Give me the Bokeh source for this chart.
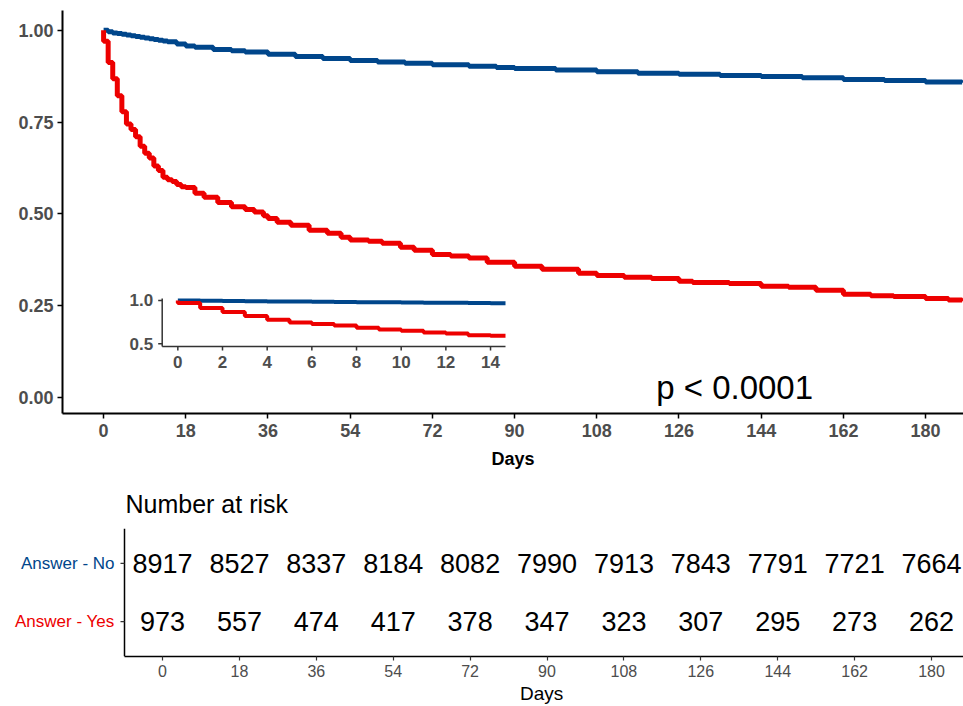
from bokeh.plotting import figure
from bokeh.models import Range1d, FixedTicker, PrintfTickFormatter, Label, ColumnDataSource, Title
from bokeh.layouts import column
from bokeh.core.properties import value
from bokeh.embed import file_html
from bokeh.resources import INLINE

# ---------------- data ----------------
group_names = ["Answer - Yes", "Answer - No"]

no_days = [0, 1, 2, 3, 4, 5, 6, 7, 8, 9, 10, 11, 12, 13, 14, 16, 18, 20, 24, 28,
           31, 36, 42, 48, 54, 60, 66, 72, 80, 86, 90, 99, 108, 117, 126, 135,
           144, 153, 162, 171, 180, 188]
no_surv = [1.0, 0.996, 0.993, 0.991, 0.989, 0.987, 0.985, 0.983, 0.981, 0.979,
           0.977, 0.975, 0.973, 0.971, 0.969, 0.963, 0.957, 0.954, 0.948, 0.944,
           0.941, 0.935, 0.929, 0.923, 0.918, 0.914, 0.910, 0.906, 0.902, 0.899,
           0.896, 0.892, 0.887, 0.883, 0.880, 0.877, 0.874, 0.871, 0.866, 0.863,
           0.859, 0.857]

yes_days = [0, 0, 1, 2, 3, 4, 5, 6, 7, 8, 9, 10, 11, 12, 13, 14, 15, 16, 17, 18,
            20, 22, 25, 28, 31, 33, 35, 36, 38, 41, 45, 49, 52, 54, 58, 61, 65, 68,
            72, 76, 80, 84, 90, 96, 104, 108, 114, 120, 126, 129, 137, 144, 150,
            156, 162, 168, 173, 180, 185, 188]
yes_surv = [1.0, 0.970, 0.912, 0.868, 0.822, 0.778, 0.745, 0.730, 0.710, 0.684,
            0.665, 0.652, 0.630, 0.618, 0.600, 0.593, 0.588, 0.580, 0.574, 0.572,
            0.556, 0.545, 0.531, 0.519, 0.512, 0.505, 0.495, 0.487, 0.477, 0.469,
            0.455, 0.447, 0.436, 0.429, 0.425, 0.420, 0.409, 0.401, 0.389, 0.385,
            0.380, 0.368, 0.357, 0.349, 0.338, 0.332, 0.327, 0.324, 0.316, 0.313,
            0.310, 0.303, 0.300, 0.292, 0.281, 0.277, 0.275, 0.269, 0.265, 0.262]

risk_times = [0, 18, 36, 54, 72, 90, 108, 126, 144, 162, 180]
risk_no = [8917, 8527, 8337, 8184, 8082, 7990, 7913, 7843, 7791, 7721, 7664]
risk_yes = [973, 557, 474, 417, 378, 347, 323, 307, 295, 273, 262]

main_x_ticks = [0, 18, 36, 54, 72, 90, 108, 126, 144, 162, 180]
main_y_ticks = [0.0, 0.25, 0.5, 0.75, 1.0]
inset_x_ticks = [0, 2, 4, 6, 8, 10, 12, 14]
inset_y_ticks = [0.5, 1.0]
inset_max_day = 14
pval_text = "p < 0.0001"

# ---------------- styles / layout ----------------
BLUE = "#00468B"
RED = "#ED0000"
GREY = "#4D4D4D"
AXC = "#333333"
FONT = "Liberation Sans"
W = 963

# main panel geometry (page pixels)
M_LEFT, M_RIGHT, M_TOP, M_BOTTOM = 62, 963, 10, 413
MAIN_H = 474
MX0, MX1 = -9.0, 188.3
MY0, MY1 = -0.044, 1.054
m_ppy = (M_BOTTOM - M_TOP) / (MY1 - MY0)

# inset geometry (page pixels) and its data limits
I_LEFT, I_RIGHT, I_TOP, I_BOTTOM = 161.7, 505.0, 298.0, 346.0
IX0, IX1 = -0.7, 14.67
IY0, IY1 = 0.469, 1.023

ipx = (I_RIGHT - I_LEFT) / (IX1 - IX0)
ipy = (I_BOTTOM - I_TOP) / (IY1 - IY0)
ix_start = IX0 - (I_LEFT - M_LEFT) / ipx
ix_end = IX1 + (M_RIGHT - I_RIGHT) / ipx
iy_start = IY0 - (M_BOTTOM - I_BOTTOM) / ipy
iy_end = IY1 + (I_TOP - M_TOP) / ipy

p = figure(width=W, height=MAIN_H, x_range=Range1d(MX0, MX1), y_range=Range1d(MY0, MY1),
           output_backend="svg", toolbar_location=None,
           min_border_left=M_LEFT, min_border_right=W - M_RIGHT, min_border_top=M_TOP,
           min_border_bottom=MAIN_H - M_BOTTOM)
p.frame_align = False
p.outline_line_color = None
p.xgrid.visible = False
p.ygrid.visible = False
p.background_fill_color = "white"
p.border_fill_color = "white"

p.step(no_days, no_surv, mode="after", line_color=BLUE, line_width=5)
p.step(yes_days, yes_surv, mode="after", line_color=RED, line_width=5)

for ax in (p.xaxis[0], p.yaxis[0]):
    ax.axis_line_width = 2
    ax.axis_line_color = "black"
    ax.major_tick_line_width = 1.5
    ax.major_tick_line_color = "black"
    ax.major_tick_out = 5
    ax.major_tick_in = 0
    ax.minor_tick_out = 0
    ax.minor_tick_in = 0
    ax.major_label_standoff = 5
    ax.major_label_text_font = FONT
    ax.major_label_text_font_style = "bold"
    ax.major_label_text_font_size = "18px"
    ax.major_label_text_color = GREY

p.xaxis[0].ticker = FixedTicker(ticks=main_x_ticks)
p.yaxis[0].ticker = FixedTicker(ticks=main_y_ticks)
p.yaxis[0].formatter = PrintfTickFormatter(format="%.2f")
p.yaxis[0].major_label_standoff = 4
p.xaxis[0].axis_label = "Days"
p.xaxis[0].axis_label_text_font = FONT
p.xaxis[0].axis_label_text_font_style = "bold"
p.xaxis[0].axis_label_text_font_size = "18px"
p.xaxis[0].axis_label_text_color = "black"
p.xaxis[0].axis_label_standoff = 9

# ---------------- inset (drawn inside the main frame) ----------------
p.extra_x_ranges = {"ix": Range1d(ix_start, ix_end)}
p.extra_y_ranges = {"iy": Range1d(iy_start, iy_end)}
IK = dict(x_range_name="ix", y_range_name="iy")

def clip_inset(days, surv):
    xs = [d for d in days if d <= inset_max_day]
    ys = surv[:len(xs)]
    return xs + [IX1], ys + [ys[-1]]

nx, ny = clip_inset(no_days, no_surv)
yx, yy = clip_inset(yes_days, yes_surv)
p.step(nx, ny, mode="after", line_color=BLUE, line_width=4, **IK)
p.step(yx, yy, mode="after", line_color=RED, line_width=4, **IK)

p.segment(x0=[IX0, IX0], y0=[IY0, IY0], x1=[IX1, IX0], y1=[IY0, IY1],
          line_color=AXC, line_width=1.5, **IK)
tdy = 4.0 / ipy
tdx = 4.0 / ipx
p.segment(x0=inset_x_ticks, y0=[IY0] * len(inset_x_ticks), x1=inset_x_ticks,
          y1=[IY0 - tdy] * len(inset_x_ticks), line_color=AXC, line_width=1.5, **IK)
p.segment(x0=[IX0 - tdx] * len(inset_y_ticks), y0=inset_y_ticks,
          x1=[IX0] * len(inset_y_ticks), y1=inset_y_ticks, line_color=AXC, line_width=1.5, **IK)
p.text(x=inset_x_ticks, y=[IY0] * len(inset_x_ticks), text=[str(v) for v in inset_x_ticks],
       text_align="center", text_baseline="top", y_offset=9, text_font=value(FONT),
       text_font_style="bold", text_font_size="17px", text_color=GREY, **IK)
p.text(x=[IX0] * len(inset_y_ticks), y=inset_y_ticks, text=["%.1f" % v for v in inset_y_ticks],
       text_align="right", text_baseline="middle", x_offset=-9, text_font=value(FONT),
       text_font_style="bold", text_font_size="17px", text_color=GREY, **IK)

p.add_layout(Label(x=121, y=10.0 / m_ppy, text=pval_text, text_font=FONT,
                   text_font_size="33px", text_align="left", text_baseline="middle",
                   text_color="black"))

# ---------------- risk table ----------------
TABLE_H = 706 - MAIN_H
T_LEFT, T_TOP, T_BOTTOM = 124, 528, 656
TX0 = -8.9
t_ppd = (931 - 162) / 180.0
TX1 = TX0 + (W - T_LEFT) / t_ppd
TXL = TX0 - T_LEFT / t_ppd          # data value at the figure's left edge
TY0, TY1 = 0.4, 2.6

t = figure(width=W, height=TABLE_H, x_range=Range1d(TXL, TX1), y_range=Range1d(TY0, TY1),
           output_backend="svg", toolbar_location=None, title="Number at risk",
           min_border_left=0, min_border_right=0, min_border_top=T_TOP - MAIN_H,
           min_border_bottom=706 - T_BOTTOM)
t.frame_align = False
t.outline_line_color = None
t.xgrid.visible = False
t.ygrid.visible = False
t.yaxis.visible = False
t.title.text_font = FONT
t.title.text_font_size = "25px"
t.title.text_font_style = "normal"
t.title.text_color = "black"
t.title.align = "left"
t.title.offset = T_LEFT + 1
t.title.standoff = 21

pos = {name: i + 1 for i, name in enumerate(group_names)}
colors = {"Answer - No": BLUE, "Answer - Yes": RED}
counts = {"Answer - No": risk_no, "Answer - Yes": risk_yes}
xs, ys, txt = [], [], []
for name in group_names:
    xs += risk_times
    ys += [pos[name]] * len(risk_times)
    txt += [str(v) for v in counts[name]]
src = ColumnDataSource(dict(x=xs, y=ys, text=txt))
t.text(x="x", y="y", text="text", source=src, text_align="center", text_baseline="middle",
       text_font=value(FONT), text_font_size="27px", text_color="black")

t.segment(x0=[TX0], y0=[TY0], x1=[TX0], y1=[TY1], line_color="black", line_width=1.5)
t.segment(x0=[TX0 - 4.0 / t_ppd] * len(group_names), y0=[pos[n] for n in group_names],
          x1=[TX0] * len(group_names), y1=[pos[n] for n in group_names],
          line_color=AXC, line_width=1.2)
t.text(x=[TX0] * len(group_names), y=[pos[n] for n in group_names], text=group_names,
       text_color=[colors[n] for n in group_names], text_align="right",
       text_baseline="middle", x_offset=-10, text_font=value(FONT), text_font_size="17px")

xa = t.xaxis[0]
xa.bounds = (TX0, TX1)
xa.axis_line_width = 1.5
xa.axis_line_color = "black"
xa.major_tick_line_width = 1.2
xa.major_tick_line_color = AXC
xa.major_tick_out = 4
xa.major_tick_in = 0
xa.minor_tick_out = 0
xa.minor_tick_in = 0
xa.major_label_text_font = FONT
xa.major_label_text_font_size = "16px"
xa.major_label_text_color = GREY
xa.ticker = FixedTicker(ticks=risk_times)
xa.major_label_standoff = 4

# table x-axis title, centred under the table's own axis span
t.add_layout(Title(text="Days", align="left", offset=T_LEFT + (W - T_LEFT) / 2 - 24,
                   text_font=FONT, text_font_size="19px", text_font_style="normal",
                   text_color="black", standoff=2), "below")

layout = column(p, t, spacing=0)
open("out.html", "w").write(file_html(layout, INLINE))
